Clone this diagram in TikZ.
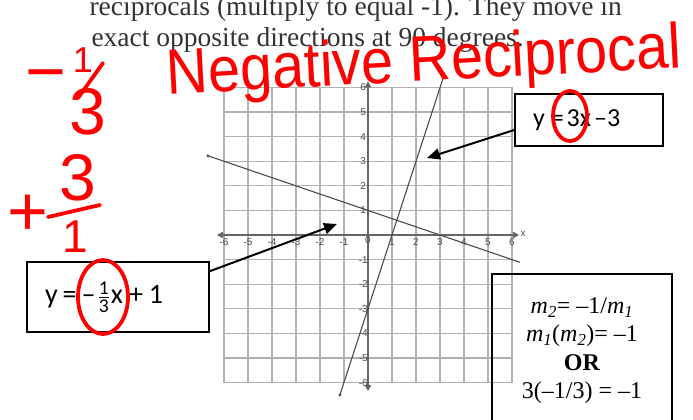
\documentclass[tikz,border=0pt]{standalone}
\usepackage{amsmath}
\usepackage{fontspec}
\setmainfont{Liberation Serif}
\newfontfamily\boxfont{Carlito}
\newfontfamily\tickfont{Liberation Sans}
\newfontfamily\inkfont{Liberation Sans}
\usetikzlibrary{arrows.meta,positioning,calc}

\begin{document}
\begin{tikzpicture}[x=1pt, y=-1pt,
    eqbox/.style={draw, line width=1.6pt, inner xsep=18pt, inner ysep=0pt,
      align=left},
    pointer/.style={-{Triangle[length=13pt,width=11pt]}, line width=2pt},
    ticklbl/.style={font=\tickfont\fontsize{10}{10}\selectfont, text=black!70, inner sep=0pt},
    ink/.style={red, line width=3.8pt, line cap=round},
    inktext/.style={text=red, inner sep=0pt}]
  \useasboundingbox (0,0) rectangle (693,420);
  \fill[white] (0,0) rectangle (693,420);

  % heading lines (cut at the top)
  \node[anchor=base west, font=\fontsize{27.5}{32}\selectfont, text=black!80]
    (line1) at (86,16) {reciprocals (multiply to equal -1). They move in};
  \node[anchor=base west, font=\fontsize{27.5}{32}\selectfont, text=black!80]
    (line2) at (88,47) {exact opposite directions at 90 degrees.};

  % grid and the two lines
  \begin{scope}[shift={(368,235)}, x=24pt, y=24.6pt]
    \draw[gray!60, line width=1.3pt, step=1] (-6,-6) grid (6,6);
    \draw[gray!80!black, line width=1.4pt,
      {Triangle[length=6pt,width=6pt]}-{Triangle[length=6pt,width=6pt]}]
      (-6.3,0) -- (6.3,0);
    \draw[gray!80!black, line width=1.4pt,
      {Triangle[length=6pt,width=6pt]}-{Triangle[length=6pt,width=6pt]}]
      (0,-6.35) -- (0,6.25);
    \node[ticklbl, anchor=west] (xlbl) at (6.35,0.05) {x};
    \foreach \k in {-6,...,-1,1,2,...,6} {
      \node[ticklbl] (xt\k) at (\k,-0.3) {\k};
      \node[ticklbl] (yt\k) at (-0.2,\k) {\k};
    }
    \node[ticklbl] (zero) at (0,-0.2) {0};
    \draw[black!70, line width=1.1pt] (-6.67,3.22) -- (6.33,-1.11);
    \fill[black!70] (-6.67,3.22) circle (1.6pt);
    \draw[black!70, line width=1.1pt] (-1.17,-6.5) -- (3.17,6.5);
    \fill[black!70] (-1.17,-6.5) circle (1.6pt);
    \fill[black!70] (3.17,6.5) circle (1.6pt);
  \end{scope}

  % equation boxes
  \node[eqbox, text width=112pt, minimum height=52pt,
    font=\boxfont\fontsize{26}{30}\selectfont] (eqA) at (589,120)
    {y\hspace{6pt}=\hspace{3pt}3x\hspace{3pt}–3};
  \node[eqbox, text width=146pt, minimum height=70pt,
    font=\boxfont\fontsize{28}{30}\selectfont] (eqB) at (118,297)
    {y\hspace{5pt}=\hspace{5pt}–\hspace{2pt}$\frac{\text{1}}{\text{3}}$\hspace{1pt}x\hspace{6pt}+\hspace{6pt}1};
  \node[draw, line width=1.6pt, minimum width=180pt, minimum height=170pt,
    anchor=north] (slopebox) at (582,273) {};
  \node[below=21pt of slopebox.north, align=center,
    font=\fontsize{24}{28.5}\selectfont] (slopes)
    {\textit{m}\textsubscript{\textit{2}}= –1/\textit{m}\textsubscript{\textit{1}}\\
     \textit{m}\textsubscript{\textit{1}}(\textit{m}\textsubscript{\textit{2}})= –1\\
     \textbf{OR}\\
     3(–1/3) = –1};

  \coordinate (tipA) at (427,158);
  \coordinate (tipB) at (337,224);
  \draw[pointer] ([yshift=-10pt]eqA.west) -- (tipA);
  \draw[pointer] ([yshift=-10pt]eqB.north east) -- (tipB);

  % red ink
  \node[inktext, anchor=base, rotate=3, xscale=0.9,
    font=\inkfont\fontsize{64}{64}\selectfont] (title) at (425,81)
    {Negative Reciprocal};
  \draw[ink] (570,116) ellipse (17 and 25);
  \draw[ink] (103,297) ellipse (25 and 37);

  \node[inktext, font=\inkfont\fontsize{70}{70}\selectfont] (minus) at (46,83) {−};
  \node[inktext, font=\inkfont\fontsize{36}{36}\selectfont] (numA) at (83,60) {1};
  \draw[ink] (103,63) -- (78,98);
  \node[inktext, font=\inkfont\fontsize{66}{66}\selectfont] (denA) at (88,112) {3};

  \node[inktext, font=\inkfont\fontsize{70}{70}\selectfont] (plus) at (28,215) {+};
  \node[inktext, font=\inkfont\fontsize{66}{66}\selectfont] (numB) at (78,178) {3};
  \draw[ink] (48,217) -- (100,205);
  \node[inktext, font=\inkfont\fontsize{46}{46}\selectfont] (denB) at (75,237) {1};
\end{tikzpicture}
\end{document}
